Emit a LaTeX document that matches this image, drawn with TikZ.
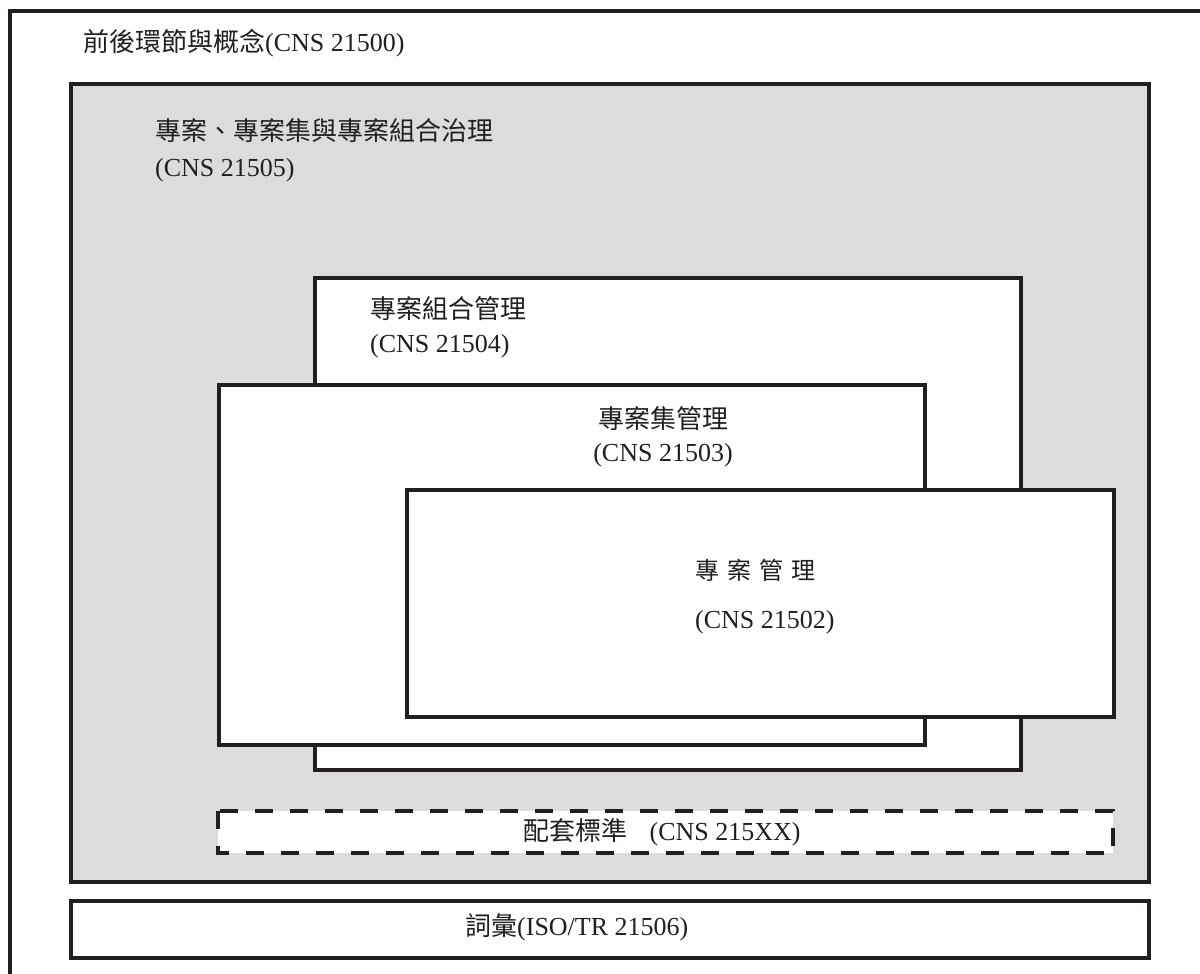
\documentclass[tikz,border=0pt]{standalone}
\usepackage{fontspec}
\setmainfont{Liberation Serif}
\newfontfamily\cjkfont{Noto Sans CJK TC}
\newcommand{\zh}[1]{{\cjkfont #1}}
\definecolor{linec}{HTML}{231F20}
\definecolor{grayfill}{HTML}{DCDCDE}
\begin{document}
\begin{tikzpicture}[x=1pt,y=-1pt,
  frame/.style={draw=linec, line width=4pt},
  box/.style={draw=linec, line width=4pt, fill=white},
  lbl/.style={anchor=base west, inner sep=0pt, font=\fontsize{26}{30}\selectfont, text=linec},
  clbl/.style={anchor=base, inner sep=0pt, font=\fontsize{26}{30}\selectfont, text=linec}]
\useasboundingbox (0,0) rectangle (1200,974);
\clip (0,0) rectangle (1200,974);
\fill[white] (0,0) rectangle (1200,974);
% outer frame
\draw[frame] (10,11) rectangle (1215,995);
\node[lbl] (t500) at (83,52) {\zh{前後環節與概念}(CNS 21500)};
% governance box
\draw[frame, fill=grayfill] (71,84) rectangle (1149,882);
\node[lbl] (t505a) at (155,140) {\zh{專案、專案集與專案組合治理}};
\node[lbl] (t505b) at (155,176) {(CNS 21505)};
% portfolio
\draw[box] (315,278) rectangle (1021,770);
\node[lbl] (t504a) at (370,318) {\zh{專案組合管理}};
\node[lbl] (t504b) at (370,352) {(CNS 21504)};
% programme
\draw[box] (219,385) rectangle (925,745);
\node[clbl] (t503a) at (663,428) {\zh{專案集管理}};
\node[clbl] (t503b) at (663,461) {(CNS 21503)};
% project
\draw[box] (407,490) rectangle (1114,717);
\node[lbl, font=\fontsize{24}{28}\selectfont] (t502a) at (695,579) {\zh{專\hspace{8pt}案\hspace{8pt}管\hspace{8pt}理}};
\node[lbl] (t502b) at (695,628) {(CNS 21502)};
% supporting standards
\draw[draw=linec, line width=4pt, fill=white, dash pattern=on 18pt off 17pt] (218,810.5) rectangle (1113,853);
\node[lbl] (t5xx) at (523,840) {\zh{配套標準}\hspace{16pt} (CNS 215XX)};
% vocabulary
\draw[box] (71,901) rectangle (1149,958);
\node[lbl] (t506) at (465,935) {\zh{詞彙}(ISO/TR 21506)};
\end{tikzpicture}
\end{document}
